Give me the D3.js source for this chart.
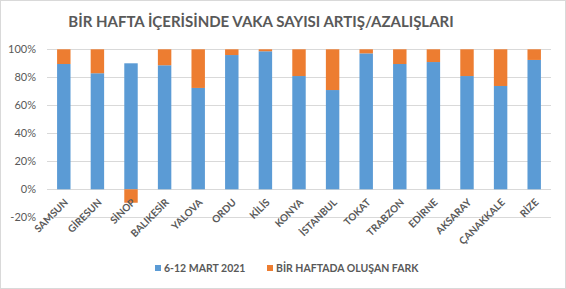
<!DOCTYPE html>
<html>
<head>
<meta charset="utf-8">
<script src="https://cdn.jsdelivr.net/npm/d3@7"></script>
<style>
  body { margin: 0; background: #fff; }
  svg { display: block; font-family: Lato, "Open Sans", sans-serif; }
</style>
</head>
<body>
<svg id="chart"></svg>
<script>
var width = 566, height = 289;

// Data
var provinces = ["SAMSUN", "GİRESUN", "SİNOP", "BALIKESİR", "YALOVA", "ORDU", "KİLİS", "KONYA",
  "İSTANBUL", "TOKAT", "TRABZON", "EDİRNE", "AKSARAY", "ÇANAKKALE", "RİZE"];
var marchShare = [89.5, 82.9, 90, 88.6, 72.4, 95.9, 98.6, 80.9, 70.9, 97.1, 89.5, 90.9, 80.9, 73.8, 92.4];
var weekDiff = [10.5, 17.1, -9.6, 11.4, 27.6, 4.1, 1.4, 19.1, 29.1, 2.9, 10.5, 9.1, 19.1, 26.2, 7.6];
var seriesNames = ["6-12 MART 2021", "BİR HAFTADA OLUŞAN FARK"];
var yTicks = [-20, 0, 20, 40, 60, 80, 100];

var colors = ["#5B9BD5", "#ED7D31"];
var textColor = "#595959";

var margin = { top: 50, right: 15, bottom: 72, left: 47 };

var svg = d3.select("#chart")
  .attr("width", width)
  .attr("height", height);

// Chart border
svg.append("rect")
  .attr("x", 0.5).attr("y", 0.5)
  .attr("width", width - 1).attr("height", height - 1)
  .attr("fill", "#fff")
  .attr("stroke", "#D9D9D9");

// Title
svg.append("text")
  .attr("x", 261)
  .attr("y", 27)
  .attr("text-anchor", "middle")
  .attr("fill", textColor)
  .style("font-size", "15px")
  .style("font-weight", "bold")
  .text("BİR HAFTA İÇERİSİNDE VAKA SAYISI ARTIŞ/AZALIŞLARI");

var x = d3.scaleBand()
  .domain(provinces)
  .range([47, 551])
  .paddingInner(0.6)
  .paddingOuter(0.3);

var y = d3.scaleLinear()
  .domain([-20, 100])
  .range([217.3, 49.3]);

// Gridlines
svg.append("g")
  .selectAll("line")
  .data(yTicks)
  .enter()
  .append("line")
  .attr("x1", 47).attr("x2", 551)
  .attr("y1", function (d) { return Math.round(y(d)) + 0.5; })
  .attr("y2", function (d) { return Math.round(y(d)) + 0.5; })
  .attr("stroke", "#D9D9D9")
  .attr("stroke-width", 1);

// Y axis labels
var yAxis = d3.axisLeft(y)
  .tickValues(yTicks)
  .tickSize(0)
  .tickPadding(0)
  .tickFormat(function (d) { return d + "%"; });

var gy = svg.append("g")
  .attr("transform", "translate(36,0)")
  .call(yAxis);
gy.select(".domain").remove();
gy.selectAll("text")
  .attr("fill", textColor)
  .style("font-size", "11px")
  .style("font-family", "Lato, sans-serif");

// Bars: blue from 0 up, orange stacked above (or below zero if negative)
var bars = svg.append("g");
provinces.forEach(function (p, i) {
  var b = marchShare[i], o = weekDiff[i];
  bars.append("rect")
    .attr("x", x(p))
    .attr("width", x.bandwidth())
    .attr("y", y(b))
    .attr("height", y(0) - y(b))
    .attr("fill", colors[0]);
  var o0 = o >= 0 ? b : 0, o1 = o >= 0 ? b + o : o;
  bars.append("rect")
    .attr("x", x(p))
    .attr("width", x.bandwidth())
    .attr("y", y(Math.max(o0, o1)))
    .attr("height", Math.abs(y(o0) - y(o1)))
    .attr("fill", colors[1]);
});

// X axis labels, rotated
var xAxis = d3.axisBottom(x).tickSize(0).tickPadding(0);
var gx = svg.append("g")
  .attr("transform", "translate(0,200)")
  .call(xAxis);
gx.select(".domain").remove();
gx.selectAll("text")
  .attr("fill", textColor)
  .attr("text-anchor", "end")
  .attr("dy", 0)
  .attr("y", 0)
  .attr("transform", "translate(5,3) rotate(-45)")
  .style("font-size", "10px")
  .style("font-weight", "bold")
  .style("font-family", "Lato, sans-serif");

// Legend
var legendX = [155, 267];
var legend = svg.append("g");
seriesNames.forEach(function (name, i) {
  legend.append("rect")
    .attr("x", legendX[i]).attr("y", 265)
    .attr("width", 6).attr("height", 6)
    .attr("fill", colors[i]);
  legend.append("text")
    .attr("x", legendX[i] + 9).attr("y", 272)
    .attr("fill", textColor)
    .style("font-size", "10.5px")
    .style("font-weight", "bold")
    .text(name);
});
</script>
</body>
</html>
